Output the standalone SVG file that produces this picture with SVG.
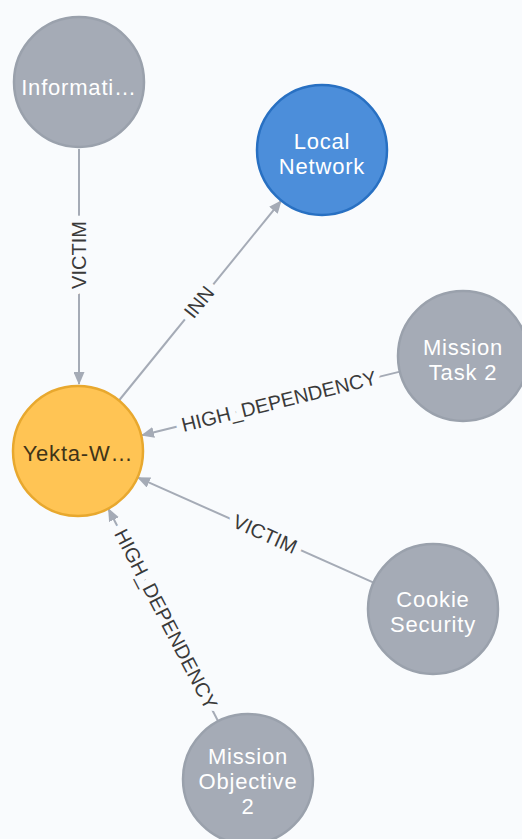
<svg xmlns="http://www.w3.org/2000/svg" width="522" height="839" viewBox="0 0 522 839">
<style>
.bg{fill:#F9FBFD}
.grey{fill:#A5ABB6;stroke:#9AA1AC;stroke-width:2.5}
.blue{fill:#4C8EDA;stroke:#2870C2;stroke-width:2.5}
.yellow{fill:#FFC454;stroke:#E8A82E;stroke-width:2.5}
.nt{font-family:"Liberation Sans",Arial,sans-serif;font-size:22px;letter-spacing:0.8px;fill:#FFFFFF;text-anchor:middle;dominant-baseline:central}
.nt.dark{fill:#3F3418}
.edge{stroke:#A5ABB6;stroke-width:2;fill:none;marker-end:url(#arrow)}
.el{font-family:"Liberation Sans",Arial,sans-serif;font-size:20px;fill:#3A3A3A;text-anchor:middle;dominant-baseline:central;stroke:#F9FBFD;stroke-width:14;paint-order:stroke;stroke-linejoin:round}
</style>
<defs>
<marker id="arrow" markerUnits="userSpaceOnUse" markerWidth="13" markerHeight="11" refX="12" refY="5.5" orient="auto">
<path d="M0,0 L13,5.5 L0,11 z" fill="#A5ABB6"/>
</marker>
</defs>
<rect class="bg" x="0" y="0" width="522" height="839"/>
<g id="connectors">
<line class="edge" x1="79" y1="149" x2="79" y2="384"/>
<text class="el" transform="translate(79,255) rotate(-90)">VICTIM</text>
<line class="edge" x1="119" y1="400.5" x2="281" y2="201"/>
<text class="el" transform="translate(199,302) rotate(-51)">INN</text>
<line class="edge" x1="400" y1="371.6" x2="142" y2="435.2"/>
<text class="el" transform="translate(279,401.3) rotate(-13.9)">HIGH_DEPENDENCY</text>
<line class="edge" x1="373.6" y1="582.6" x2="138" y2="477.6"/>
<text class="el" transform="translate(265,534) rotate(24)">VICTIM</text>
<line class="edge" x1="218" y1="721" x2="108.5" y2="509"/>
<text class="el" transform="translate(166,619) rotate(62.6)">HIGH_DEPENDENCY</text>
</g>
<g id="node-information">
<circle class="grey" cx="79" cy="82" r="65"/>
<text class="nt" x="79" y="87">Informati…</text>
</g>
<g id="node-local-network">
<circle class="blue" cx="322" cy="150" r="65"/>
<text class="nt" x="322" y="141">Local</text>
<text class="nt" x="322" y="166">Network</text>
</g>
<g id="node-mission-task-2">
<circle class="grey" cx="463" cy="356" r="65"/>
<text class="nt" x="463" y="347">Mission</text>
<text class="nt" x="463" y="372">Task 2</text>
</g>
<g id="node-yekta">
<circle class="yellow" cx="78" cy="451" r="65"/>
<text class="nt dark" x="78" y="453">Yekta-W…</text>
</g>
<g id="node-cookie-security">
<circle class="grey" cx="433" cy="609" r="65"/>
<text class="nt" x="433" y="599">Cookie</text>
<text class="nt" x="433" y="624">Security</text>
</g>
<g id="node-mission-objective-2">
<circle class="grey" cx="248" cy="779" r="65"/>
<text class="nt" x="248" y="756">Mission</text>
<text class="nt" x="248" y="781">Objective</text>
<text class="nt" x="248" y="806">2</text>
</g>
</svg>
